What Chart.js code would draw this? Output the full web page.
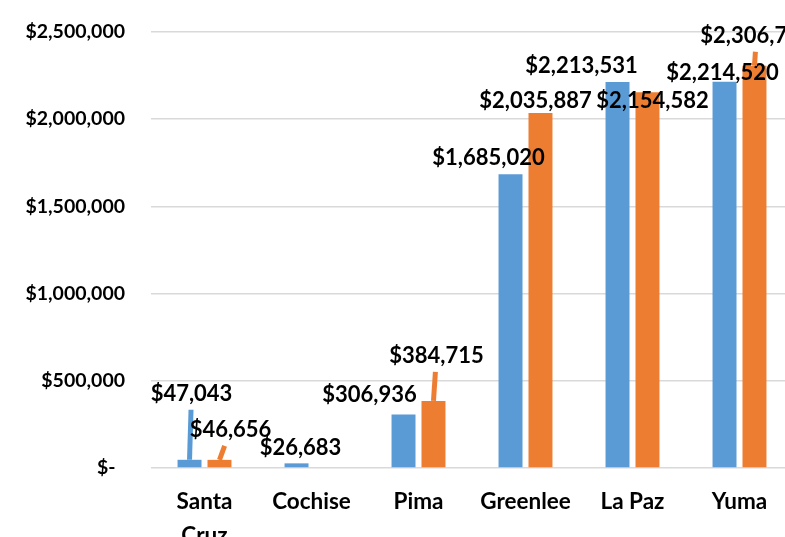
<!DOCTYPE html>
<html lang="en">
<head>
    <meta charset="UTF-8">
    <title>County Totals</title>
    <script src="https://cdn.jsdelivr.net/npm/chart.js"></script>
    <style>
        html, body {
            margin: 0;
            padding: 0;
            background: #fff;
            overflow: hidden;
        }
        .chart-container {
            position: relative;
            width: 793px;
            height: 537px;
        }
    </style>
</head>
<body>
    <div class="chart-container">
        <canvas id="chart"></canvas>
    </div>

    <script>
        // chart data
        const categories = [['Santa', 'Cruz'], 'Cochise', 'Pima', 'Greenlee', 'La Paz', 'Yuma'];
        const seriesBlue = [47043, 26683, 306936, 1685020, 2213531, 2214520];
        const seriesOrange = [46656, null, 384715, 2035887, 2154582, 2306700];
        const yTicks = [0, 500000, 1000000, 1500000, 2000000, 2500000];

        const FONT = 'Lato, "Liberation Sans", sans-serif';

        function money(v) {
            if (v === 0) return '$-  ';
            return '$' + v.toLocaleString('en-US');
        }

        // where each data label sits relative to the top of its bar (dx, dy, leader line)
        const labelPlacement = [
            [[2, -66, true], [4, -15], [-34, -20], [-22, -16], [-36, -16], [-2, -9]],
            [[11, -30, true], null, [3, -45, true], [-5, -12], [5, 9], [2, -30, true]]
        ];

        const dataLabels = {
            id: 'dataLabels',
            afterDatasetsDraw(chart) {
                const ctx = chart.ctx;
                ctx.save();
                chart.data.datasets.forEach((ds, i) => {
                    const meta = chart.getDatasetMeta(i);
                    meta.data.forEach((bar, j) => {
                        const v = ds.data[j];
                        const p = labelPlacement[i][j];
                        if (v == null || !p) return;
                        const lx = bar.x + p[0];
                        const ly = bar.y + p[1];
                        if (p[2]) {
                            // leader line from bar top toward the label
                            const endY = ly + 16;
                            const t = (bar.y - endY) / (bar.y - ly);
                            const endX = bar.x + (lx - bar.x) * t;
                            ctx.strokeStyle = ds.backgroundColor;
                            ctx.lineWidth = 5;
                            ctx.beginPath();
                            ctx.moveTo(bar.x, bar.y);
                            ctx.lineTo(endX, endY);
                            ctx.stroke();
                        }
                        ctx.fillStyle = '#000';
                        ctx.font = 'bold 22px ' + FONT;
                        ctx.textAlign = 'center';
                        ctx.textBaseline = 'middle';
                        ctx.fillText(money(v), lx, ly);
                    });
                });
                ctx.restore();
            }
        };

        const ctx = document.getElementById('chart').getContext('2d');
        new Chart(ctx, {
            type: 'bar',
            data: {
                labels: categories,
                datasets: [
                    {
                        label: 'Series 1',
                        data: seriesBlue,
                        backgroundColor: '#5B9BD5',
                        barPercentage: 0.8,
                        categoryPercentage: 0.56
                    },
                    {
                        label: 'Series 2',
                        data: seriesOrange,
                        backgroundColor: '#ED7D31',
                        barPercentage: 0.8,
                        categoryPercentage: 0.56
                    }
                ]
            },
            options: {
                responsive: true,
                maintainAspectRatio: false,
                animation: false,
                layout: {
                    padding: { top: 32, right: 0, bottom: 0, left: 0 }
                },
                plugins: {
                    legend: { display: false },
                    tooltip: { enabled: false }
                },
                scales: {
                    x: {
                        grid: { display: false },
                        border: { display: false },
                        ticks: {
                            color: '#000',
                            padding: 9,
                            maxRotation: 0,
                            font: { family: FONT, size: 22.5, weight: 'bold', lineHeight: 1.5 }
                        },
                        afterFit(scale) { scale.height = 69; }
                    },
                    y: {
                        min: 0,
                        max: 2500000,
                        afterBuildTicks(scale) {
                            scale.ticks = yTicks.map(v => ({ value: v }));
                        },
                        grid: {
                            color: '#d9d9d9',
                            lineWidth: 1.5,
                            drawTicks: false
                        },
                        border: { display: false },
                        ticks: {
                            color: '#000',
                            padding: 26,
                            font: { family: FONT, size: 19.5, weight: 'bold' },
                            callback: v => money(v)
                        },
                        afterFit(scale) {
                            scale.width = 151;
                            scale.paddingTop = 0;
                            scale.paddingBottom = 0;
                        }
                    }
                }
            },
            plugins: [dataLabels]
        });
    </script>
</body>
</html>
